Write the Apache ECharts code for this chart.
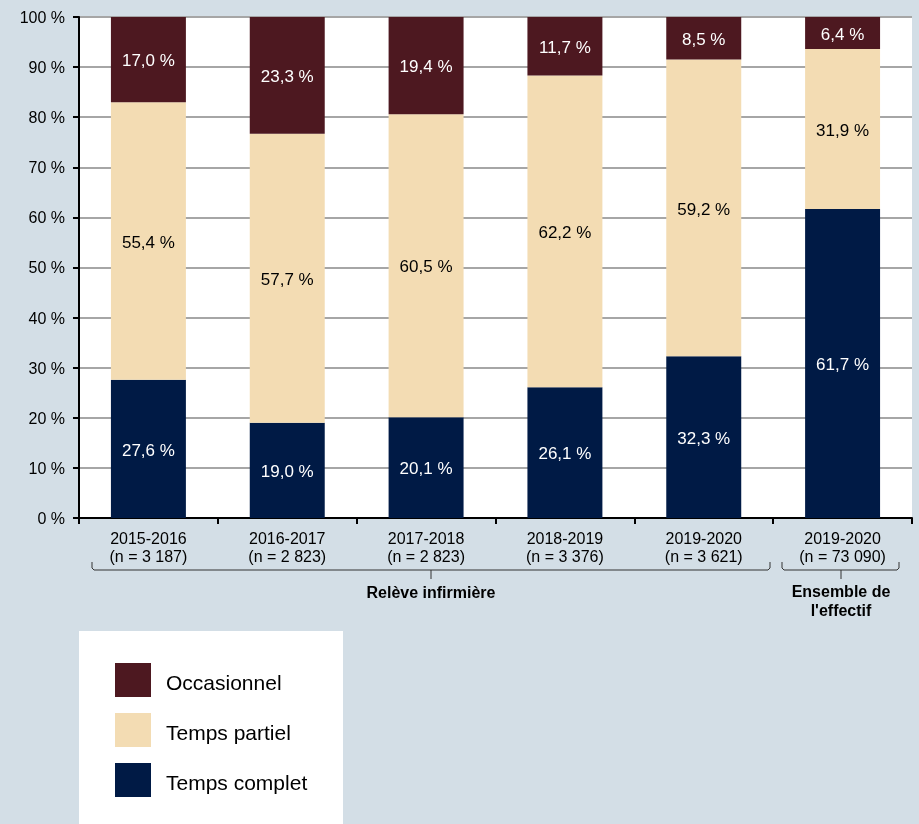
<!DOCTYPE html>
<html>
<head>
<meta charset="utf-8">
<script src="https://cdn.jsdelivr.net/npm/echarts@6/dist/echarts.min.js"></script>
<style>
  html, body { margin: 0; padding: 0; background: #d3dee6; }
  #chart { width: 919px; height: 824px; }
</style>
</head>
<body>
<div id="chart"></div>
<script>
// Catégories (année et effectif)
const categories = [
  '2015-2016\n(n = 3 187)',
  '2016-2017\n(n = 2 823)',
  '2017-2018\n(n = 2 823)',
  '2018-2019\n(n = 3 376)',
  '2019-2020\n(n = 3 621)',
  '2019-2020\n(n = 73 090)'
];

// Répartition (%) selon le statut d'emploi
const tempsComplet = [27.6, 19.0, 20.1, 26.1, 32.3, 61.7];
const tempsPartiel = [55.4, 57.7, 60.5, 62.2, 59.2, 31.9];
const occasionnel  = [17.0, 23.3, 19.4, 11.7, 8.5, 6.4];

const yTicks = { min: 0, max: 100, interval: 10 };

const FONT = '"Liberation Sans", Arial, sans-serif';
const fmt = p => p.value.toFixed(1).replace('.', ',') + ' %';

function seg(name, data, color, labelColor) {
  return {
    name: name,
    type: 'bar',
    stack: 'total',
    barWidth: '54%',
    data: data,
    itemStyle: { color: color },
    label: {
      show: true,
      position: 'inside',
      offset: [0, 2],
      formatter: fmt,
      color: labelColor,
      fontFamily: FONT,
      fontSize: 17
    }
  };
}

const chart = echarts.init(document.getElementById('chart'), null, { renderer: 'canvas' });

// Accolades regroupant les catégories sous l'axe
const braceStyle = { stroke: '#333', lineWidth: 1, fill: null };
function brace(x1, x2, xm) {
  return [
    { type: 'polyline', shape: { points: [[x1, 562], [x1, 568], [x1 + 2, 570], [x2 - 2, 570], [x2, 568], [x2, 562]] }, style: braceStyle, silent: true },
    { type: 'polyline', shape: { points: [[xm, 570], [xm, 579]] }, style: braceStyle, silent: true }
  ];
}

chart.setOption({
  backgroundColor: '#d3dee6',
  animation: false,
  grid: { left: 79, right: 7, top: 17, bottom: 306, containLabel: false, show: true, backgroundColor: '#ffffff', borderWidth: 0 },
  xAxis: {
    type: 'category',
    data: categories,
    axisLine: { lineStyle: { color: '#000', width: 2 } },
    axisTick: { show: true, length: 6, lineStyle: { color: '#000', width: 2 } },
    axisLabel: { color: '#000', fontFamily: FONT, fontSize: 16, lineHeight: 18, margin: 13, interval: 0 }
  },
  yAxis: {
    type: 'value',
    min: yTicks.min,
    max: yTicks.max,
    interval: yTicks.interval,
    axisLine: { show: true, lineStyle: { color: '#000', width: 2 } },
    axisTick: { show: true, length: 6, lineStyle: { color: '#000', width: 2 } },
    axisLabel: {
      color: '#000', fontFamily: FONT, fontSize: 16, margin: 14,
      formatter: v => '{t|' + v + ' %}',
      rich: { t: { fontFamily: FONT, fontSize: 16, color: '#000', padding: [3, 0, 0, 0] } }
    },
    splitLine: { show: true, lineStyle: { color: '#a6a6a6', width: 2 } }
  },
  legend: {
    orient: 'vertical',
    left: 115,
    top: 663,
    padding: 0,
    itemWidth: 36,
    itemHeight: 34,
    itemGap: 16,
    icon: 'rect',
    data: ['Occasionnel', 'Temps partiel', 'Temps complet'],
    formatter: name => '{t|' + name + '}',
    textStyle: {
      color: '#000', fontFamily: FONT, fontSize: 21, padding: [0, 0, 0, 10],
      rich: { t: { fontFamily: FONT, fontSize: 21, color: '#000', padding: [8, 0, 0, 0] } }
    },
    selectedMode: false
  },
  graphic: [
    { type: 'rect', z: -1, shape: { x: 79, y: 631, width: 264, height: 200 }, style: { fill: '#ffffff' }, silent: true },
    ...brace(92, 770, 431),
    ...brace(782, 899, 841),
    { type: 'text', x: 431, y: 594, style: { text: 'Relève infirmière', font: 'bold 16px ' + FONT, fill: '#000', align: 'center', verticalAlign: 'middle' }, silent: true },
    { type: 'text', x: 841, y: 602, style: { text: 'Ensemble de\nl\'effectif', font: 'bold 16px ' + FONT, lineHeight: 19, fill: '#000', align: 'center', verticalAlign: 'middle' }, silent: true }
  ],
  series: [
    seg('Temps complet', tempsComplet, '#001a45', '#ffffff'),
    seg('Temps partiel', tempsPartiel, '#f3dcb3', '#000000'),
    seg('Occasionnel', occasionnel, '#4d1820', '#ffffff')
  ]
});
</script>
</body>
</html>
